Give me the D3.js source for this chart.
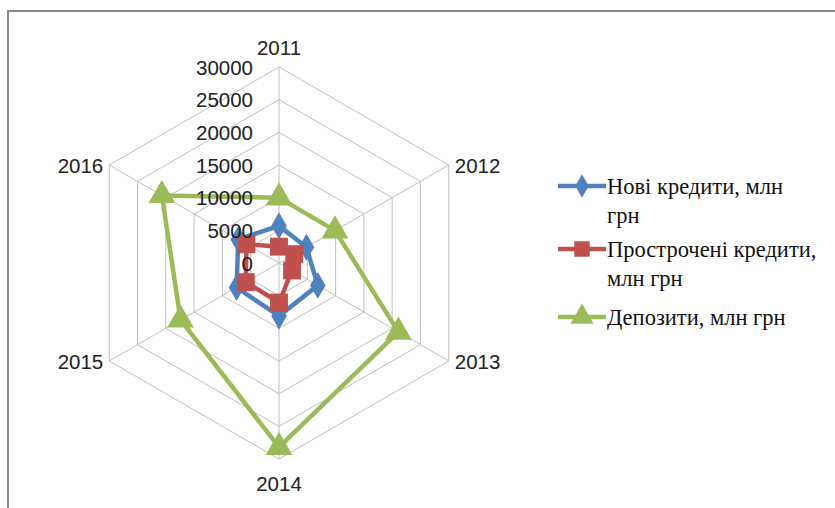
<!DOCTYPE html>
<html><head><meta charset="utf-8">
<script src="https://cdn.jsdelivr.net/npm/d3@7"></script>
<style>body{margin:0;background:#fff}svg{display:block}</style>
</head><body>
<svg id="c" width="835" height="508"></svg>
<script>
const categories = ["2011","2012","2013","2014","2015","2016"];
const tickValues = [0,5000,10000,15000,20000,25000,30000];
const seriesNames = ["Нові кредити, млн грн","Прострочені кредити, млн грн","Депозити, млн грн"];
const newLoans = [5700,4850,6850,8100,7500,7200];
const overdueLoans = [2500,2700,2300,6050,5870,5750];
const deposits = [10000,9900,21100,28200,17400,20700];
const colors = ["#4F81BD","#C0504D","#9BBB59"];
const legendLines = [["Нові кредити, млн","грн"],["Прострочені кредити,","млн грн"],["Депозити, млн грн"]];

const svg = d3.select("#c");
const cx = 279, cy = 263, R = 196;
const r = d3.scaleLinear().domain([0,30000]).range([0,R]);
const ang = d3.scaleLinear().domain([0,categories.length]).range([0,2*Math.PI]);
const pt = (i,v)=>[cx + r(v)*Math.sin(ang(i)), cy - r(v)*Math.cos(ang(i))];

// border
svg.append("path").attr("d","M8,508 L8,11 L835,11").attr("fill","none").attr("stroke","#888").attr("stroke-width",2);

const grid = svg.append("g");
tickValues.filter(t=>t>0).forEach(t=>{
  grid.append("path")
    .attr("d", d3.line()(categories.map((c,i)=>pt(i,t))) + "Z")
    .attr("fill","none").attr("stroke","#bfbfbf").attr("stroke-width",1);
});
categories.forEach((c,i)=>{
  const p = pt(i,30000);
  grid.append("line").attr("x1",cx).attr("y1",cy).attr("x2",p[0]).attr("y2",p[1])
    .attr("stroke","#bfbfbf").attr("stroke-width",1);
});

const font = "'Liberation Sans', Arial, sans-serif";
// category labels
categories.forEach((c,i)=>{
  const p = pt(i,30000);
  const s = Math.sin(ang(i)), co = Math.cos(ang(i));
  let x = p[0], y = p[1], anchor = "middle";
  if (Math.abs(s) < 0.01) { y = co > 0 ? p[1]-20 : p[1]+24; }
  else { anchor = s > 0 ? "start" : "end"; x = p[0] + (s>0?6:-6); y = p[1]; }
  svg.append("text").attr("x",x).attr("y",y).attr("text-anchor",anchor)
    .attr("dominant-baseline","central").attr("font-family",font).attr("font-size",20.5)
    .attr("fill","#222").text(c);
});

// series
const series = [newLoans, overdueLoans, deposits];
const shapes = [d3.symbolDiamond, d3.symbolSquare, d3.symbolTriangle];
const symSizes = [210, 320, 310];
series.forEach((vals,k)=>{
  svg.append("path")
    .attr("d", d3.line()(vals.map((v,i)=>pt(i,v))) + "Z")
    .attr("fill","none").attr("stroke",colors[k]).attr("stroke-width",4.5).attr("stroke-linejoin","round");
});
series.forEach((vals,k)=>{
  vals.forEach((v,i)=>{
    const p = pt(i,v);
    svg.append("path").attr("transform",`translate(${p[0]},${p[1]})`)
      .attr("d", d3.symbol().type(shapes[k]).size(symSizes[k])())
      .attr("fill",colors[k]);
  });
});

// tick labels
tickValues.forEach(t=>{
  svg.append("text").attr("x",253).attr("y",cy - r(t)).attr("text-anchor","end")
    .attr("dominant-baseline","central").attr("font-family",font).attr("font-size",20.5)
    .attr("fill","#222").text(t);
});

// legend
const legY = [186, 249, 317];
legendLines.forEach((lines,k)=>{
  const g = svg.append("g");
  g.append("line").attr("x1",558).attr("x2",606).attr("y1",legY[k]).attr("y2",legY[k])
    .attr("stroke",colors[k]).attr("stroke-width",4.5);
  g.append("path").attr("transform",`translate(582,${legY[k]})`)
    .attr("d", d3.symbol().type(shapes[k]).size(symSizes[k]*0.75)())
    .attr("fill",colors[k]);
  lines.forEach((ln,j)=>{
    g.append("text").attr("x",607).attr("y",legY[k]+j*29).attr("dominant-baseline","central")
      .attr("font-family","'Liberation Serif','Times New Roman',serif").attr("font-size",22.5)
      .attr("fill","#111").text(ln);
  });
});
</script>
</body></html>
